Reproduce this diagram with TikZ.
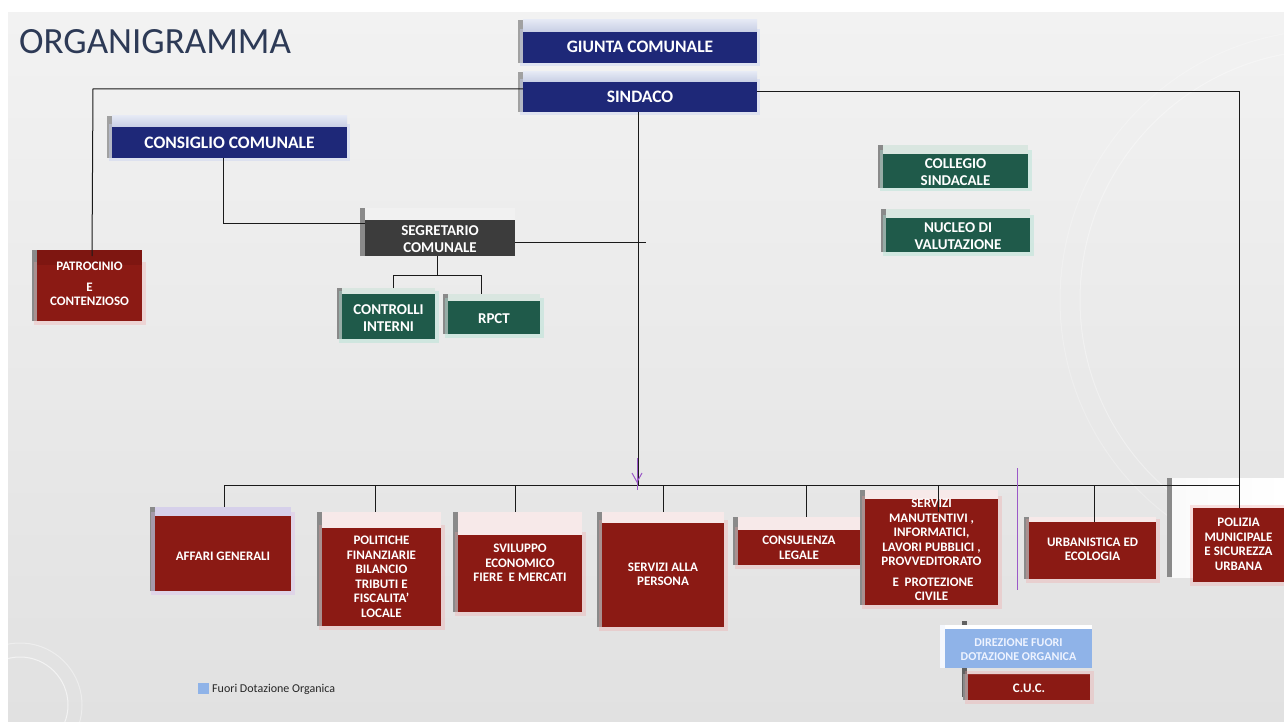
\documentclass[tikz,border=0pt]{standalone}
\usepackage{fontspec}
\setmainfont{Carlito}
\usetikzlibrary{calc}
\definecolor{bgtop}{HTML}{F2F2F2}
\definecolor{bgbot}{HTML}{E1E1E1}
\definecolor{titlecol}{HTML}{2D3A56}
\definecolor{boxblue}{HTML}{1E2878}
\definecolor{glowblue}{HTML}{C9D3F2}
\definecolor{stripbluetop}{HTML}{E4E8F4}
\definecolor{stripblue}{HTML}{C7CEE4}
\definecolor{boxred}{HTML}{8B1A14}
\definecolor{glowred}{HTML}{F2A0A0}
\definecolor{stripred}{HTML}{F7E9E9}
\definecolor{stripredd}{HTML}{7E1611}
\definecolor{striplav}{HTML}{D6D0EA}
\definecolor{glowlav}{HTML}{D8B8EE}
\definecolor{boxgreen}{HTML}{1F5A4A}
\definecolor{glowgreen}{HTML}{A8E0D0}
\definecolor{stripgreen}{HTML}{D9E6E0}
\definecolor{boxgray}{HTML}{3C3C3C}
\definecolor{stripgray}{HTML}{F1F1F1}
\definecolor{boxlblue}{HTML}{8FB3E8}
\definecolor{txtlblue}{HTML}{EEF3FF}
\definecolor{edgegray}{HTML}{8A8A8A}
\definecolor{linecol}{HTML}{1A1A1A}
\definecolor{purplecol}{HTML}{9B59C8}
\tikzset{
  body/.style={rectangle, inner sep=0pt, outer sep=0pt},
  txt/.style={text=white, align=center, inner sep=0pt, font=\bfseries\fontsize{13}{14.5}\selectfont},
  body blue/.style={body, fill=boxblue, preaction={draw=glowblue, line width=6pt, opacity=.45}},
  strip blue/.style={top color=stripbluetop, bottom color=stripblue},
  edge blue/.style={fill=edgegray!80},
  txt blue/.style={txt, font=\bfseries\fontsize{17.5}{20}\selectfont},
  body red/.style={body, fill=boxred, preaction={draw=glowred, line width=7pt, opacity=.3}},
  strip red/.style={fill=stripred},
  edge red/.style={fill=edgegray},
  txt red/.style={txt},
  body redd/.style={body red},
  strip redd/.style={fill=stripredd},
  edge redd/.style={fill=edgegray},
  txt redd/.style={txt},
  body redlav/.style={body, fill=boxred, preaction={draw=glowlav, line width=8pt, opacity=.35}},
  strip redlav/.style={fill=striplav},
  edge redlav/.style={fill=edgegray},
  txt redlav/.style={txt},
  body green/.style={body, fill=boxgreen, preaction={draw=glowgreen, line width=7pt, opacity=.4}},
  strip green/.style={fill=stripgreen},
  edge green/.style={fill=edgegray},
  txt green/.style={txt, font=\bfseries\fontsize{15}{17}\selectfont},
  body gray/.style={body, fill=boxgray},
  strip gray/.style={fill=stripgray},
  edge gray/.style={fill=edgegray},
  txt gray/.style={txt, font=\bfseries\fontsize{15}{17}\selectfont},
  body lblue/.style={body, fill=boxlblue},
  strip lblue/.style={fill=white},
  edge lblue/.style={fill=white!90!boxlblue},
  txt lblue/.style={txt, text=txtlblue, font=\bfseries\fontsize{12}{14}\selectfont},
  conn/.style={draw=linecol, line width=1pt},
  mark line/.style={draw=purplecol, line width=1pt},
}
% #1 name, #2 left x, #3 strip top y, #4 body top y, #5 right x, #6 bottom y, #7 kind, #8 text y, #9 text
\newcommand\tdbox[9]{%
  \path[edge #7] ({#2-5},#3) rectangle (#2,#6);
  \node[body #7, minimum width={(#5-#2)*1pt}, minimum height={(#6-#4)*1pt}] (#1) at ({(#2+#5)/2},{(#4+#6)/2}) {};
  \path[strip #7] (#2,#3) rectangle (#5,#4);
  \node[txt #7] (#1-t) at ({(#2+#5)/2},#8) {#9};
  \coordinate (#1-top) at ({(#2+#5)/2},#3);
}
\begin{document}
\begin{tikzpicture}[x=1pt,y=-1pt]
\useasboundingbox (0,0) rectangle (1284,722);
% background
\fill[white] (0,0) rectangle (1284,722);
\shade[top color=bgtop, bottom color=bgbot] (8,13) rectangle (1284,722);
\begin{scope}
\clip (8,13) rectangle (1284,722);
\draw[white, opacity=.6, line width=1pt] (20,705) circle (48);
\draw[white, opacity=.4, line width=1pt] (20,705) circle (62);
\draw[white, opacity=.35, line width=1pt] (1330,300) circle (250);
\draw[white, opacity=.25, line width=1pt] (1330,300) circle (270);
\end{scope}
% title
\node[anchor=west, inner sep=0pt, text=titlecol, font=\fontsize{37}{40}\selectfont] (title) at (19,42) {ORGANIGRAMMA};

% top boxes
\tdbox{giunta}{523}{20}{32}{757}{63}{blue}{47}{GIUNTA COMUNALE}
\tdbox{sindaco}{523}{72}{82}{757}{112}{blue}{97}{SINDACO}
\tdbox{consiglio}{112}{116}{127}{347}{158}{blue}{143}{CONSIGLIO COMUNALE}
\tdbox{segr}{365}{208}{220}{515}{256}{gray}{239.5}{SEGRETARIO\\COMUNALE}
\tdbox{ctrl}{342}{288}{294}{435}{339}{green}{318.5}{CONTROLLI\\INTERNI}
\tdbox{rpct}{448}{294}{301}{540}{334}{green}{319}{RPCT}
\tdbox{collegio}{883}{145}{154}{1028}{188}{green}{172.5}{COLLEGIO\\SINDACALE}
\tdbox{nucleo}{886}{209}{218}{1030}{252}{green}{236}{NUCLEO DI\\VALUTAZIONE}
\tdbox{patro}{37}{250}{265}{142}{321}{redd}{284}{PATROCINIO\\[6pt]E\\CONTENZIOSO}

% bottom boxes
\tdbox{affari}{155}{507}{516}{291}{591}{redlav}{556}{AFFARI GENERALI}
\tdbox{pol}{322}{512}{528}{441}{626}{red}{577}{POLITICHE\\FINANZIARIE\\BILANCIO\\TRIBUTI E\\FISCALITA’\\LOCALE}
\tdbox{svil}{458}{512}{535}{582}{612}{red}{563}{SVILUPPO\\ECONOMICO\\FIERE\ \ E MERCATI}
\tdbox{pers}{602}{512}{523}{724}{627}{red}{574.5}{SERVIZI ALLA\\PERSONA}
\tdbox{cons}{738}{517}{530}{860}{565}{red}{548}{CONSULENZA\\LEGALE}
\tdbox{manu}{865}{490}{499}{998}{605}{red}{550}{SERVIZI\\MANUTENTIVI ,\\INFORMATICI,\\LAVORI PUBBLICI ,\\PROVVEDITORATO\\[6pt]\ E\ \ PROTEZIONE\\CIVILE}
\tdbox{urb}{1029}{517}{522}{1156}{579}{red}{549.5}{URBANISTICA ED\\ECOLOGIA}
% polizia
\fill[edgegray] (1167,478) rectangle (1172,577);
\shade[left color=white!96!gray, right color=white] (1172,478) rectangle (1284,577);
\node[body red, minimum width=91pt, minimum height=74pt] (poliz) at (1238.5,545) {};
\node[txt red] (poliz-t) at (1238.5,544.5) {POLIZIA\\MUNICIPALE\\E SICUREZZA\\URBANA};
% fuori dotazione
\fill[edgegray!70!black] (962,621) rectangle (967,697);
\tdbox{dir}{945}{625}{629}{1092}{668}{lblue}{650}{DIREZIONE FUORI\\DOTAZIONE ORGANICA}
\tdbox{cuc}{968}{674}{674}{1090}{700}{red}{688}{C.U.C.}

% legend
\fill[boxlblue] (198,683) rectangle (209,694);
\node[anchor=west, inner sep=0pt, text=black!85, font=\fontsize{12}{14}\selectfont] (legend) at (212,689) {Fuori Dotazione Organica};

% connectors
\coordinate (c1) at (93,89);
\coordinate (c2) at (1239,92);
\coordinate (pe) at (92,256);
\draw[conn] (sindaco.west |- c1) -- (c1) -- (pe);
\draw[conn] (sindaco.east |- c2) -- (c2) -- (c2 |- poliz.north);
\coordinate (busL) at (224,485);
\coordinate (busR) at (1239,485);
\draw[conn] (busL) -- (busR);
\coordinate (sv) at (638,485);
\draw[conn] (sindaco.south -| sv) -- (sv);
% consiglio - segretario
\coordinate (k1) at (223,223);
\draw[conn] (consiglio.south -| k1) -- (k1) -- (k1 -| segr.west);
\coordinate (k2) at (646,242);
\draw[conn] (segr.east |- k2) -- (k2);
\coordinate (k3) at (393,275);
\coordinate (k4) at (481,275);
\coordinate (k5) at (437,275);
\draw[conn] (segr.south -| k5) -- (k5);
\draw[conn] (k3 |- ctrl-top) -- (k3) -- (k4) -- (k4 |- rpct-top);
% drops to bottom boxes
\draw[conn] (busL) -- (busL |- affari-top);
\coordinate (d2) at (375,485); \draw[conn] (d2) -- (d2 |- pol-top);
\coordinate (d3) at (515,485); \draw[conn] (d3) -- (d3 |- svil-top);
\coordinate (d4) at (663,485); \draw[conn] (d4) -- (d4 |- pers-top);
\coordinate (d5) at (806,485); \draw[conn] (d5) -- (d5 |- cons-top);
\coordinate (d6) at (938,485); \coordinate (d6e) at (938,512); \draw[conn] (d6) -- (d6e);
\coordinate (d7) at (1094,485); \draw[conn] (d7) -- (d7 |- urb.north);

% purple marks
\draw[mark line] (637,458) -- (637,490);
\draw[mark line] (632,473) -- (637,482) -- (642,473);
\draw[mark line] (1017,468) -- (1017,590);
\end{tikzpicture}
\end{document}
